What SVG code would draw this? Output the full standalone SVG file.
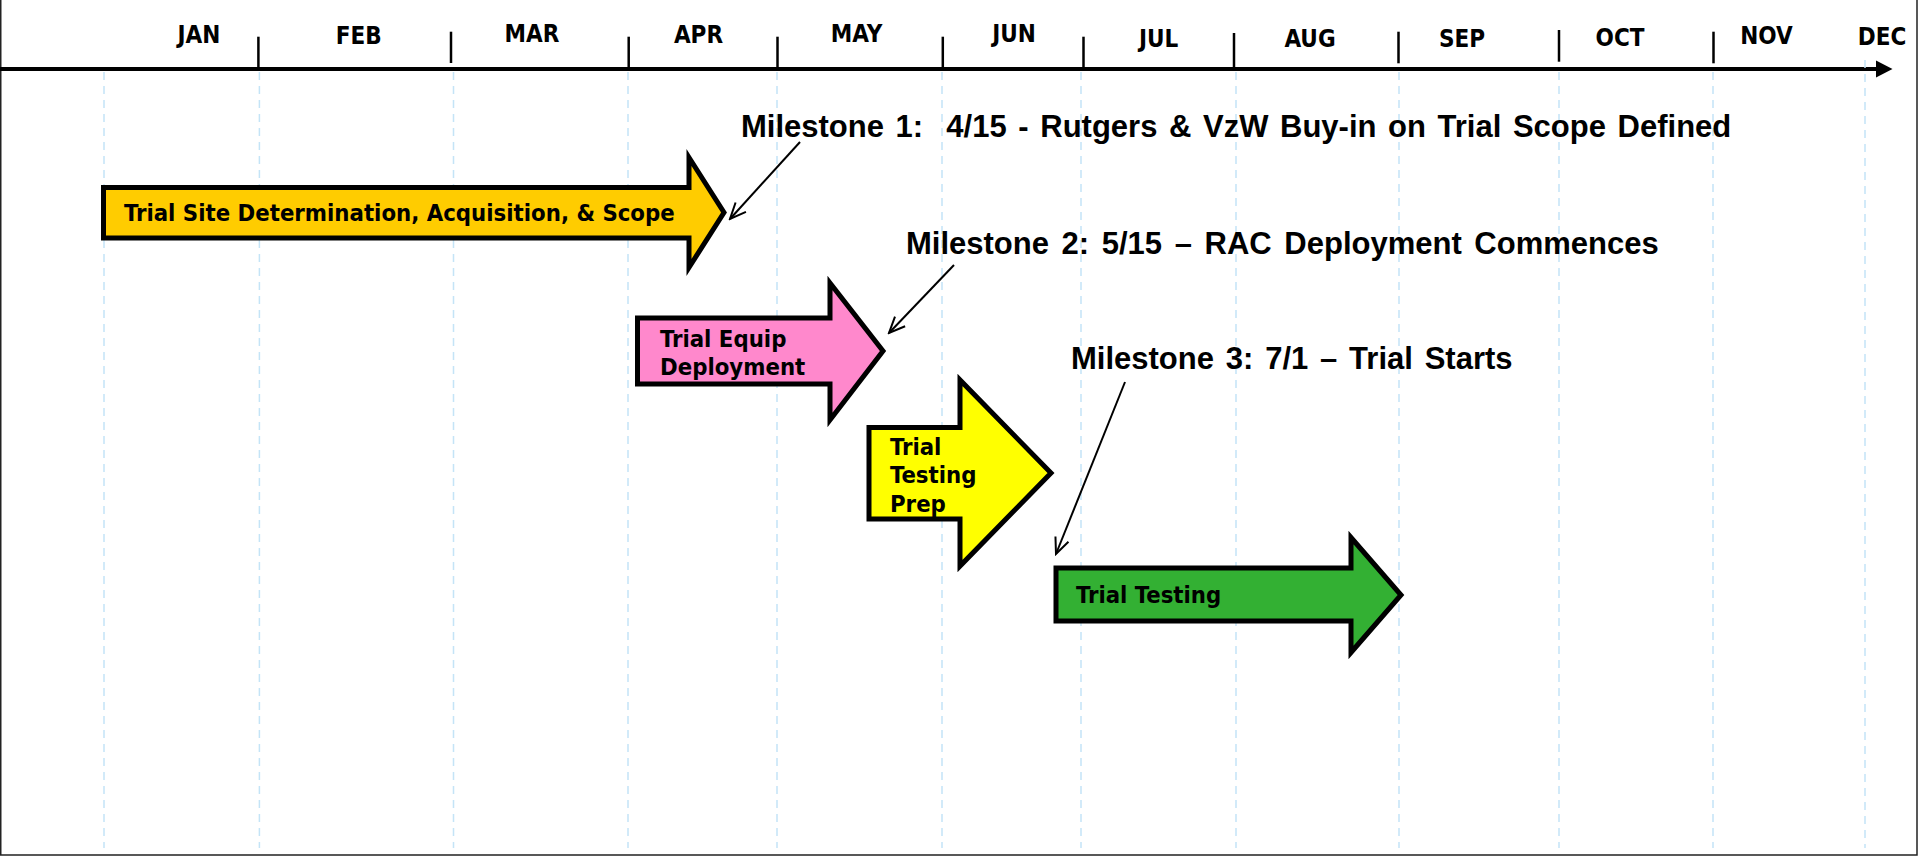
<svg xmlns="http://www.w3.org/2000/svg" width="1919" height="856" viewBox="0 0 1919 856">
  <style>
    .month { font-family: "DejaVu Sans Condensed", "DejaVu Sans", sans-serif; font-stretch: condensed; font-weight: bold; font-size: 24px; fill: #000; text-anchor: middle; }
    .label { font-family: "DejaVu Sans Condensed", "DejaVu Sans", sans-serif; font-stretch: condensed; font-weight: bold; font-size: 23.7px; fill: #000; }
    .milestone { font-family: "Liberation Sans", Arial, sans-serif; font-weight: bold; font-size: 31px; fill: #000; }
    .grid line { stroke: #c4e4f7; stroke-width: 1.5; stroke-dasharray: 8 6; }
    .tick { stroke: #000; stroke-width: 2.5; }
    .shape { stroke: #000; stroke-width: 5; stroke-linejoin: miter; stroke-miterlimit: 10; }
    .pointer { fill: none; stroke: #000; stroke-width: 2; marker-end: url(#openHead); }
  </style>
  <defs>
    <marker id="openHead" viewBox="0 0 20 20" refX="18" refY="10" markerWidth="20" markerHeight="20" markerUnits="userSpaceOnUse" orient="auto">
      <path d="M2,3 L18,10 L2,17" fill="none" stroke="#000" stroke-width="2"/>
    </marker>
  </defs>

  <rect x="0" y="0" width="1919" height="856" fill="#fff"/>
  <!-- page frame: left, bottom and right edges -->
  <path d="M0.75,0 V855 H1917 V0" fill="none" stroke="#222" stroke-width="1.5"/>

  <!-- time axis -->
  <g id="axis">
    <line x1="0" y1="69" x2="1878" y2="69" stroke="#000" stroke-width="4"/>
    <polygon points="1876,60.5 1892.5,69 1876,77.5" fill="#000"/>
    <line class="tick" x1="258.4" y1="36.7" x2="258.4" y2="69"/>
    <line class="tick" x1="451" y1="31.7" x2="451" y2="63"/>
    <line class="tick" x1="628.7" y1="36.7" x2="628.7" y2="69"/>
    <line class="tick" x1="777.5" y1="36.7" x2="777.5" y2="69" stroke-width="1.5"/>
    <line class="tick" x1="942.8" y1="36.7" x2="942.8" y2="69"/>
    <line class="tick" x1="1083.5" y1="36.7" x2="1083.5" y2="69"/>
    <line class="tick" x1="1234" y1="33" x2="1234" y2="67"/>
    <line class="tick" x1="1398.5" y1="31.7" x2="1398.5" y2="63.3"/>
    <line class="tick" x1="1559" y1="30" x2="1559" y2="61.7"/>
    <line class="tick" x1="1713.5" y1="31.7" x2="1713.5" y2="63.3"/>
  </g>

  <!-- month labels -->
  <g id="months">
    <text class="month" x="199" y="42.7">JAN</text>
    <text class="month" x="358.7" y="44">FEB</text>
    <text class="month" x="532" y="42.3">MAR</text>
    <text class="month" x="698.5" y="42.5">APR</text>
    <text class="month" x="856.5" y="42.3">MAY</text>
    <text class="month" x="1014" y="42.3">JUN</text>
    <text class="month" x="1158.6" y="46.7">JUL</text>
    <text class="month" x="1310" y="46.7">AUG</text>
    <text class="month" x="1462" y="47.3">SEP</text>
    <text class="month" x="1620" y="45.7">OCT</text>
    <text class="month" x="1766.5" y="44.3">NOV</text>
    <text class="month" x="1882" y="45">DEC</text>
  </g>

  <!-- dashed month gridlines -->
  <g id="grid" class="grid">
    <line x1="104" y1="72" x2="104" y2="848"/>
    <line x1="259.4" y1="72" x2="259.4" y2="848"/>
    <line x1="453.5" y1="72" x2="453.5" y2="848"/>
    <line x1="628" y1="72" x2="628" y2="848"/>
    <line x1="777" y1="72" x2="777" y2="848"/>
    <line x1="942" y1="72" x2="942" y2="848"/>
    <line x1="1081" y1="72" x2="1081" y2="848"/>
    <line x1="1236" y1="72" x2="1236" y2="848"/>
    <line x1="1399" y1="72" x2="1399" y2="848"/>
    <line x1="1559" y1="72" x2="1559" y2="848"/>
    <line x1="1713" y1="72" x2="1713" y2="848"/>
    <line x1="1865" y1="60" x2="1865" y2="848"/>
  </g>

  <!-- phase arrows -->
  <g id="site-scope">
    <polygon class="shape" fill="#ffcc00" points="103.5,187.5 689,187.5 689,157.5 724,212.5 689,267.5 689,238 103.5,238"/>
    <text class="label" x="124" y="221">Trial Site Determination, Acquisition, &amp; Scope</text>
  </g>
  <g id="equip-deployment">
    <polygon class="shape" fill="#ff88cc" points="637.5,318 830,318 830,283 883,351 830,420 830,384 637.5,384"/>
    <text class="label" x="660" y="346.7">Trial Equip</text>
    <text class="label" x="660" y="375">Deployment</text>
  </g>
  <g id="testing-prep">
    <polygon class="shape" fill="#ffff00" points="869,427.5 960,427.5 960,380 1051,473 960,566 960,519 869,519"/>
    <text class="label" x="890" y="454.5">Trial</text>
    <text class="label" x="890" y="483">Testing</text>
    <text class="label" x="890" y="511.5">Prep</text>
  </g>
  <g id="trial-testing">
    <polygon class="shape" fill="#33b033" points="1056,568 1351,568 1351,537.5 1401,595 1351,652.5 1351,621 1056,621"/>
    <text class="label" x="1076" y="603.3">Trial Testing</text>
  </g>

  <!-- milestone callouts -->
  <g id="milestone-1">
    <text class="milestone" x="741" y="137" word-spacing="3" xml:space="preserve">Milestone 1:  4/15 - Rutgers &amp; VzW Buy-in on Trial Scope Defined</text>
  </g>
  <g id="milestone-2">
    <text class="milestone" x="906" y="254" word-spacing="4">Milestone 2: 5/15 – RAC Deployment Commences</text>
  </g>
  <g id="milestone-3">
    <text class="milestone" x="1071" y="369" word-spacing="3.2">Milestone 3: 7/1 – Trial Starts</text>
  </g>

  <!-- callout pointers -->
  <g id="connectors">
    <line class="pointer" x1="800" y1="142" x2="730" y2="219"/>
    <line class="pointer" x1="954" y1="265" x2="889" y2="333"/>
    <line class="pointer" x1="1125" y1="382" x2="1056" y2="554"/>
  </g>
</svg>
